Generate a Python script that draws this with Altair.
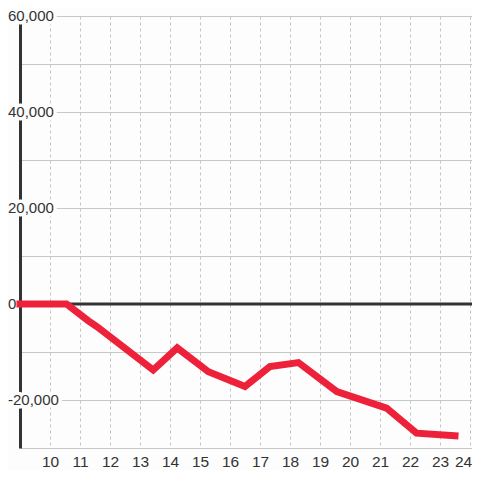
import altair as alt
import pandas as pd

# Line series (hour of day, value)
hours = [9.0, 10.55, 11.28, 11.56, 13.44, 14.24, 15.28, 16.5, 17.33, 18.28, 19.56, 21.22, 22.22, 23.5]
values = [0, 0, -3500, -4700, -13750, -9150, -14100, -17200, -13050, -12200, -18250, -21700, -26900, -27450]

# Axis ticks / labels
x_ticks = list(range(10, 25))
y_grid = list(range(-30000, 60001, 10000))
y_label_vals = [60000, 40000, 20000, 0, -20000]
y_label_text = ["60,000", "40,000", "20,000", "0", "-20,000"]

BG = "#fcfdfc"
FONT = "Liberation Sans"

line_df = pd.DataFrame({"t": hours, "v": values})
lab_df = pd.DataFrame({"v": y_label_vals, "label": y_label_text})
zero_df = pd.DataFrame({"v": [0]})

x_enc = alt.X(
    "t:Q",
    scale=alt.Scale(domain=[9, 9 + 452 / 30], nice=False, zero=False),
    axis=alt.Axis(
        values=x_ticks, grid=True, gridDash=[3, 3], gridColor="#c4c4c4", gridWidth=1,
        domain=False, ticks=False, labelFontSize=15.5, labelColor="#333333",
        labelFont=FONT, labelPadding=6, labelFlush=False, labelOverlap=False, title=None,
        labelOffset={"condition": {"test": "datum.value == 24", "value": -7}, "value": 0},
    ),
)
y_scale = alt.Scale(domain=[-30000, 60000], nice=False, zero=False)
y_enc = alt.Y(
    "v:Q",
    scale=y_scale,
    axis=alt.Axis(
        values=y_grid, grid=True, gridColor="#c8c8c8", gridWidth=1, labels=False,
        ticks=False, domain=True, domainColor="#333333", domainWidth=3, title=None,
    ),
)

zero_rule = alt.Chart(zero_df).mark_rule(color="#333333", strokeWidth=3).encode(
    y=alt.Y("v:Q", scale=y_scale)
)

halo = alt.Chart(lab_df).mark_text(
    align="left", baseline="middle", fontSize=15, font=FONT,
    fill=BG, stroke=BG, strokeWidth=7, strokeJoin="round",
).encode(x=alt.value(-12), y=alt.Y("v:Q", scale=y_scale), text="label:N")

labels = alt.Chart(lab_df).mark_text(
    align="left", baseline="middle", fontSize=15, font=FONT, color="#333333",
).encode(x=alt.value(-12), y=alt.Y("v:Q", scale=y_scale), text="label:N")

line = alt.Chart(line_df).mark_line(
    color="#ed2139", strokeWidth=7, strokeCap="square", strokeJoin="miter"
).encode(x=x_enc, y=y_enc)

chart = (
    alt.layer(zero_rule, halo, labels, line)
    .properties(
        width=452, height=432,
        autosize=alt.AutoSizeParams(type="none"),
        padding={"left": 12, "top": 8, "right": 0, "bottom": 22},
        background=BG,
    )
    .configure_view(stroke=None)
)

chart.save("out.html", embed_options={"renderer": "svg", "actions": False})
